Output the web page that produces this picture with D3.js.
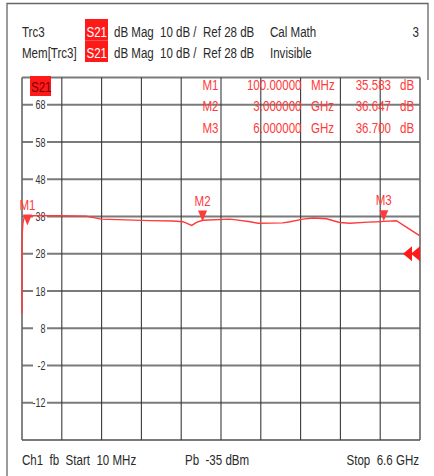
<!DOCTYPE html>
<html>
<head>
<meta charset="utf-8">
<script src="https://cdn.jsdelivr.net/npm/d3@7"></script>
<style>
  body { margin: 0; background: #fff; }
  svg text { font-family: "Liberation Sans Narrow", "Liberation Sans", sans-serif; white-space: pre; }
</style>
</head>
<body>
<div id="vna"></div>
<script>
// trace samples (GHz, dB)
const freqGHz = [0.010, 0.0105, 0.012, 0.016, 0.024, 0.036, 0.055, 0.08, 0.2, 0.64, 1.07, 1.32,
  2.13, 2.51, 2.675, 2.82, 2.90, 3.0, 3.45, 3.56, 3.785, 3.92, 4.33, 4.45, 4.66, 4.83,
  5.05, 5.27, 5.44, 5.74, 5.90, 6.0, 6.21, 6.38, 6.6];
const s21dB = [12, 28, 31, 34, 36, 37.2, 37.9, 38.1, 38.2, 38.2, 38.1, 37.3,
  36.9, 36.8, 36.6, 35.6, 36.4, 37.0, 37.3, 37.1, 36.6, 36.2, 36.3, 36.6, 37.3, 37.6,
  37.4, 36.4, 36.2, 36.5, 36.6, 36.7, 36.85, 35.1, 32.8];

const markerNames = ["M1", "M2", "M3"];
const markerFreq = [0.1, 3.0, 6.0];
const markerVal = [35.583, 36.647, 36.700];
const markerFreqText = ["100.00000", "3.000000", "6.000000"];
const markerUnit = ["MHz", "GHz", "GHz"];
const markerValText = ["35.583", "36.647", "36.700"];

const yTicks = [68, 58, 48, 38, 28, 18, 8, -2, -12];
const refLevel = 28;
const xStart = 0.010, xStop = 6.6, divisions = 10;

(function() {
  const width = 434, height = 476;
  const left = 22, right = 420, top = 77.5, bottom = 440;
  const red = "#ff3a3a";
  const squeeze = 0.77; // no narrow face installed, so squash the regular one

  const svg = d3.select("#vna").append("svg")
    .attr("width", width).attr("height", height);

  const txt = (g, px, py, s, size, anchor, sq) => g.append("text")
    .attr("transform", `translate(${px},${py}) scale(${sq || squeeze},1)`)
    .attr("text-anchor", anchor || "start")
    .style("font-size", size + "px")
    .text(s);

  const x = d3.scaleLinear().domain([xStart, xStop]).range([left, right]);
  const y = d3.scaleLinear().domain([-22, 78]).range([bottom, 67.5]);

  // outer frame
  svg.append("path")
    .attr("d", `M7,${height} V3.5 H428 V80`)
    .attr("fill", "none").attr("stroke", "#666").attr("stroke-width", 1.3);

  // header lines
  const hdr = svg.append("g").attr("fill", "#2a2a2a");
  const hdrRows = [
    { y: 37, top: 19, cells: [[22, "Trc3"], [114, "dB Mag"], [160, "10 dB /"], [203, "Ref 28 dB"], [270, "Cal Math"]] },
    { y: 58, top: 40.5, cells: [[22, "Mem[Trc3]"], [114, "dB Mag"], [160, "10 dB /"], [203, "Ref 28 dB"], [270, "Invisible"]] }
  ];
  hdrRows.forEach(r => {
    r.cells.forEach(c => txt(hdr, c[0], r.y, c[1], 15));
    hdr.append("rect").attr("x", 85).attr("y", r.top).attr("width", 23).attr("height", 21.5).attr("fill", "#ff1a1a");
    txt(hdr, 86.5, r.y, "S21", 15).attr("fill", "#fff");
  });
  txt(hdr, 419, 37, "3", 15, "end");

  // grid
  const grid = svg.append("g");
  const hLines = [...yTicks, -22];
  grid.selectAll("line.h").data(hLines).join("line")
    .attr("x1", left).attr("x2", right)
    .attr("y1", d => y(d)).attr("y2", d => y(d))
    .attr("stroke", "#7a7a7a").attr("stroke-width", 1.8);
  grid.append("line").attr("x1", left).attr("x2", right).attr("y1", top).attr("y2", top)
    .attr("stroke", "#7a7a7a").attr("stroke-width", 1.8);
  const vx = d3.range(divisions + 1).map(i => xStart + i * (xStop - xStart) / divisions);
  grid.selectAll("line.v").data(vx).join("line")
    .attr("x1", d => x(d)).attr("x2", d => x(d))
    .attr("y1", top).attr("y2", bottom)
    .attr("stroke", (d, i) => (i === 0 || i === divisions) ? "#666" : "#3a3a3a")
    .attr("stroke-width", (d, i) => (i === 0 || i === divisions) ? 1.6 : 1.1);

  // y tick labels sit inside the grid, with a gap cut in the line
  grid.selectAll("rect.gap").data(yTicks).join("rect")
    .attr("x", 33).attr("y", d => y(d) - 3).attr("width", 14).attr("height", 6).attr("fill", "#fff");
  const yl = grid.append("g").attr("fill", "#333");
  yTicks.forEach(t => txt(yl, 45.5, y(t) + 4.5, String(t), 12.5, "end", 0.72));

  // S21 tag inside diagram
  svg.append("rect").attr("x", 30).attr("y", 76).attr("width", 21).attr("height", 20).attr("fill", "#ff1a1a");
  txt(svg, 31, 91.5, "S21", 15).attr("fill", "#700");

  // marker table
  const tbl = svg.append("g").attr("fill", red);
  markerNames.forEach((m, i) => {
    const by = 89.5 + i * 21.7;
    txt(tbl, 218.5, by, m, 15, "end");
    txt(tbl, 301.5, by, markerFreqText[i], 15, "end");
    txt(tbl, 311, by, markerUnit[i], 15);
    txt(tbl, 391, by, markerValText[i], 15, "end");
    txt(tbl, 400, by, "dB", 15);
  });

  // trace
  const pts = freqGHz.map((f, i) => [f, s21dB[i]]);
  svg.append("path").datum(pts)
    .attr("fill", "none").attr("stroke", red).attr("stroke-width", 1.4)
    .attr("d", d3.line().x(d => x(d[0])).y(d => y(d[1])));

  // marker triangles + labels
  const mk = svg.append("g").attr("fill", red);
  markerNames.forEach((m, i) => {
    const mx = x(markerFreq[i]), my = y(markerVal[i]);
    mk.append("path").attr("d", `M${mx - 4.5},${my - 11} H${mx + 4.5} L${mx},${my} Z`);
    txt(mk, mx, my - 16, m, 15, "middle");
  });

  // reference level arrows at right edge
  const ry = y(refLevel);
  [403, 411].forEach(ax => {
    svg.append("path").attr("d", `M${ax},${ry} L${ax + 9},${ry - 7.5} V${ry + 7.5} Z`).attr("fill", "#ff1a1a");
  });

  // footer
  const ft = svg.append("g").attr("fill", "#2a2a2a");
  txt(ft, 22, 465, "Ch1  fb  Start  10 MHz", 15);
  txt(ft, 185, 465, "Pb  -35 dBm", 15);
  txt(ft, 419, 465, "Stop  6.6 GHz", 15, "end");
})();
</script>
</body>
</html>
